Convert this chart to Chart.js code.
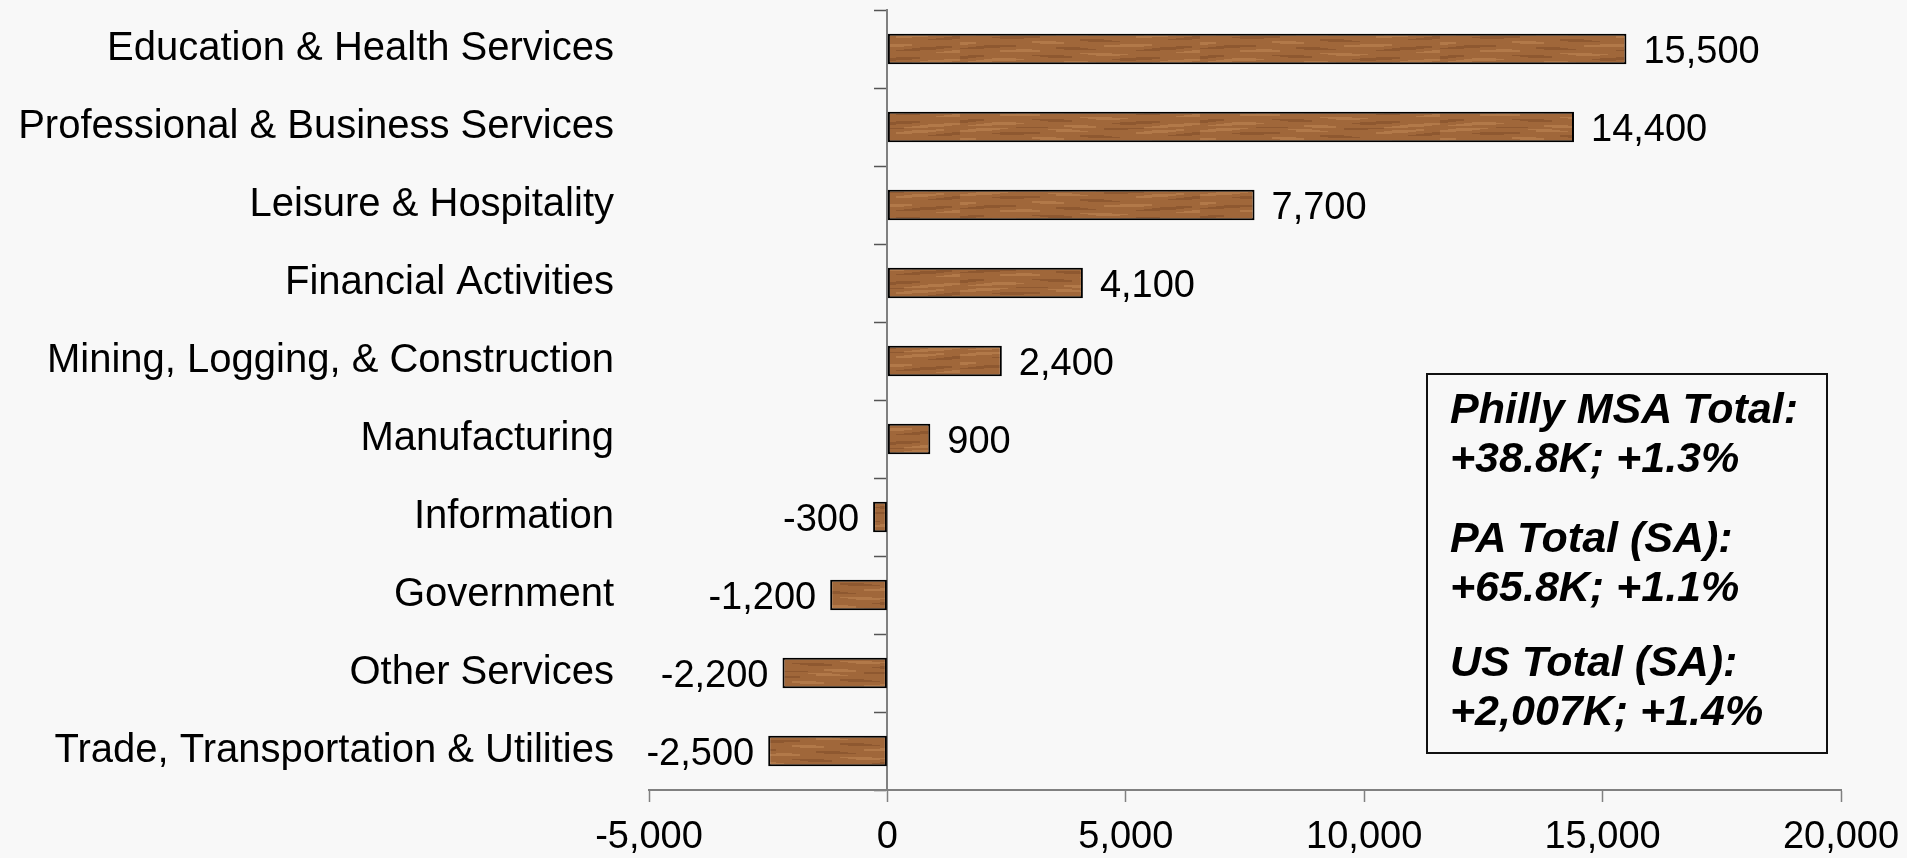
<!DOCTYPE html>
<html>
<head>
<meta charset="utf-8">
<script src="https://cdn.jsdelivr.net/npm/chart.js@4/dist/chart.umd.min.js"></script>
<style>
  html, body { margin: 0; padding: 0; background: #f8f8f8; }
  #wrap { position: relative; width: 1907px; height: 858px; overflow: hidden; }
  canvas { position: absolute; left: 0; top: 0; }
  #box {
    position: absolute; left: 1426px; top: 373px; width: 398px; height: 377px;
    border: 2px solid #111; background: transparent;
    font-family: "Liberation Sans", Arial, sans-serif; font-weight: bold; font-style: italic;
    font-size: 43px; color: #000;
  }
  #box .pair { position: absolute; left: 22px; line-height: 49px; white-space: nowrap; }
</style>
</head>
<body>
<div id="wrap">
  <canvas id="c" width="1907" height="858"></canvas>
  <div id="box">
    <div class="pair" style="top:9px">Philly MSA Total:<br>+38.8K; +1.3%</div>
    <div class="pair" style="top:138px">PA Total (SA):<br>+65.8K; +1.1%</div>
    <div class="pair" style="top:262px">US Total (SA):<br>+2,007K; +1.4%</div>
  </div>
</div>
<script>
const categories = [
  "Education & Health Services",
  "Professional & Business Services",
  "Leisure & Hospitality",
  "Financial Activities",
  "Mining, Logging, & Construction",
  "Manufacturing",
  "Information",
  "Government",
  "Other Services",
  "Trade, Transportation & Utilities"
];
const jobChange = [15500, 14400, 7700, 4100, 2400, 900, -300, -1200, -2200, -2500];
const xTicks = [-5000, 0, 5000, 10000, 15000, 20000];

const FONT = '"Liberation Sans", Arial, sans-serif';
const fmt = v => v.toLocaleString('en-US');

// wood-like fill pattern (texture only)
function woodPattern(ctx) {
  const pc = document.createElement('canvas');
  pc.width = 240; pc.height = 32;
  const p = pc.getContext('2d');
  p.fillStyle = '#a0673a';
  p.fillRect(0, 0, pc.width, pc.height);
  for (let y = 0; y < pc.height; y++) {
    for (let x = 0; x < pc.width; x += 8) {
      const s = Math.sin(y * 0.7 + Math.sin(x * 0.03) * 1.5) + Math.sin(x * 0.07 + y * 0.2) * 0.5;
      let c = null;
      if (s > 1.0) c = 'rgba(195,140,88,0.5)';
      else if (s < -1.0) c = 'rgba(115,68,35,0.4)';
      if (c) { p.fillStyle = c; p.fillRect(x, y, 8, 1); }
    }
  }
  return ctx.createPattern(pc, 'repeat');
}

const ctx = document.getElementById('c').getContext('2d');
const wood = woodPattern(ctx);

const valueLabels = {
  id: 'valueLabels',
  afterDatasetsDraw(chart) {
    const c = chart.ctx;
    const meta = chart.getDatasetMeta(0);
    c.save();
    c.font = '38px ' + FONT;
    c.fillStyle = '#000';
    c.textBaseline = 'middle';
    meta.data.forEach((bar, i) => {
      const v = jobChange[i];
      if (v >= 0) { c.textAlign = 'left'; c.fillText(fmt(v), bar.x + 17, bar.y + 4); }
      else { c.textAlign = 'right'; c.fillText(fmt(v), bar.x - 14, bar.y + 4); }
    });
    c.restore();
  }
};

new Chart(ctx, {
  type: 'bar',
  data: {
    labels: categories,
    datasets: [{
      data: jobChange,
      backgroundColor: wood,
      borderColor: '#000',
      borderWidth: 2,
      borderSkipped: false,
      categoryPercentage: 1.0,
      barPercentage: 0.39
    }]
  },
  options: {
    indexAxis: 'y',
    responsive: false,
    animation: false,
    layout: { padding: { left: 0, right: 66, top: 10, bottom: 0 } },
    plugins: { legend: { display: false }, tooltip: { enabled: false } },
    scales: {
      x: {
        type: 'linear',
        min: -5000, max: 20000,
        afterBuildTicks: s => { s.ticks = xTicks.map(v => ({ value: v })); },
        ticks: { font: { size: 38, family: FONT }, color: '#000', padding: 13, callback: v => fmt(v), maxRotation: 0 },
        grid: { drawOnChartArea: false, drawTicks: true, tickLength: 12, tickColor: '#808080', tickWidth: 1.5 },
        border: { display: true, color: '#808080', width: 2 },
        afterFit: s => { s.height = 68; s.paddingLeft = 0; s.paddingRight = 0; }
      },
      y: {
        type: 'category',
        position: 'left',
        offset: true,
        ticks: { font: { size: 40, family: FONT }, color: '#000', padding: 35, autoSkip: false },
        grid: { display: false, drawTicks: false },
        border: { display: false },
        afterFit: s => { s.width = 649; s.paddingTop = 0; s.paddingBottom = 0; }
      },
      y2: {
        type: 'category',
        axis: 'y',
        labels: categories,
        position: { x: 0 },
        offset: true,
        ticks: { display: false },
        grid: { offset: true, drawOnChartArea: false, drawTicks: true, tickLength: 12, tickColor: '#555', tickWidth: 1.5 },
        border: { display: true, color: '#808080', width: 2 }
      }
    }
  },
  plugins: [valueLabels]
});
</script>
</body>
</html>
